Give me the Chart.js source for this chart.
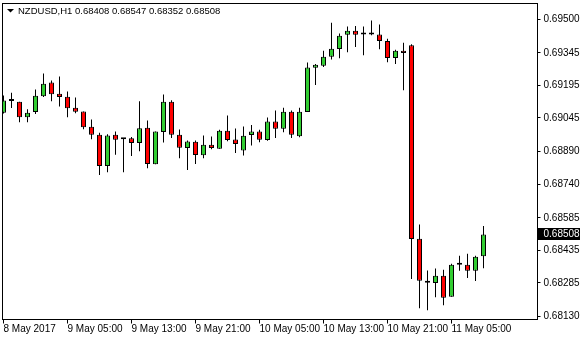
<!DOCTYPE html>
<html>
<head>
<meta charset="utf-8">
<script src="https://cdn.jsdelivr.net/npm/chart.js@4.4.0/dist/chart.umd.min.js"></script>
<style>
  html, body { margin: 0; padding: 0; background: #fff; }
  #wrap { width: 580px; height: 340px; }
</style>
</head>
<body>
<div id="wrap"><canvas id="candles" width="580" height="340"></canvas></div>
<script>
// --- Data (NZDUSD H1) ---
const symbolTitle = 'NZDUSD,H1';
const opens  = [0.69069, 0.69123, 0.69120, 0.69048, 0.69072, 0.69145, 0.69208, 0.69156, 0.69143, 0.69092,
                0.69075, 0.69004, 0.68968, 0.68824, 0.68967, 0.68947, 0.68951, 0.68930, 0.69000, 0.68832,
                0.68980, 0.69120, 0.68967, 0.68907, 0.68935, 0.68873, 0.68922, 0.68903, 0.68986, 0.68946,
                0.68895, 0.68966, 0.68982, 0.68943, 0.69028, 0.68995, 0.69074, 0.68961, 0.69072, 0.69276,
                0.69285, 0.69327, 0.69363, 0.69428, 0.69447, 0.69430, 0.69430, 0.69429, 0.69400, 0.69321,
                0.69355, 0.69380, 0.68488, 0.68295, 0.68284, 0.68318, 0.68221, 0.68368, 0.68368, 0.68341,
                0.68408];
const highs  = [0.69148, 0.69161, 0.69120, 0.69085, 0.69176, 0.69250, 0.69218, 0.69236, 0.69167, 0.69139,
                0.69075, 0.69038, 0.68977, 0.68970, 0.68983, 0.68952, 0.68957, 0.69122, 0.69033, 0.68982,
                0.69153, 0.69126, 0.68992, 0.68941, 0.68941, 0.68964, 0.68959, 0.68991, 0.69056, 0.68996,
                0.69006, 0.69012, 0.68991, 0.69047, 0.69079, 0.69092, 0.69079, 0.69092, 0.69300, 0.69294,
                0.69355, 0.69484, 0.69434, 0.69466, 0.69469, 0.69466, 0.69494, 0.69476, 0.69410, 0.69359,
                0.69392, 0.69385, 0.68554, 0.68342, 0.68351, 0.68346, 0.68373, 0.68410, 0.68419, 0.68410,
                0.68547];
const lows   = [0.69065, 0.69091, 0.69025, 0.69025, 0.69063, 0.69141, 0.69122, 0.69098, 0.69048, 0.69067,
                0.68993, 0.68947, 0.68782, 0.68795, 0.68875, 0.68795, 0.68870, 0.68892, 0.68813, 0.68832,
                0.68932, 0.68953, 0.68859, 0.68805, 0.68833, 0.68859, 0.68901, 0.68903, 0.68938, 0.68883,
                0.68872, 0.68918, 0.68933, 0.68940, 0.68952, 0.68979, 0.68952, 0.68956, 0.69072, 0.69197,
                0.69280, 0.69314, 0.69320, 0.69348, 0.69372, 0.69334, 0.69426, 0.69362, 0.69302, 0.69294,
                0.69173, 0.68303, 0.68168, 0.68159, 0.68219, 0.68182, 0.68221, 0.68341, 0.68307, 0.68294,
                0.68352];
const closes = [0.69125, 0.69123, 0.69048, 0.69069, 0.69147, 0.69202, 0.69154, 0.69141, 0.69090, 0.69073,
                0.69002, 0.68967, 0.68824, 0.68964, 0.68945, 0.68947, 0.68930, 0.68997, 0.68833, 0.68982,
                0.69120, 0.68967, 0.68908, 0.68936, 0.68874, 0.68921, 0.68906, 0.68986, 0.68943, 0.68925,
                0.68963, 0.68982, 0.68944, 0.69028, 0.68995, 0.69074, 0.68967, 0.69074, 0.69277, 0.69290,
                0.69327, 0.69364, 0.69424, 0.69447, 0.69428, 0.69430, 0.69430, 0.69400, 0.69321, 0.69355,
                0.69344, 0.68487, 0.68295, 0.68285, 0.68318, 0.68216, 0.68368, 0.68368, 0.68341, 0.68405,
                0.68508];

// bar index where each time label sits
const tickBars   = [0, 8, 16, 24, 32, 40, 48, 56];
const tickLabels = ['8 May 2017', '9 May 05:00', '9 May 13:00', '9 May 21:00',
                    '10 May 05:00', '10 May 13:00', '10 May 21:00', '11 May 05:00'];
const priceTicks = [0.69500, 0.69345, 0.69195, 0.69045, 0.68890, 0.68740, 0.68585, 0.68435, 0.68285, 0.68130];

const BULL = 'rgb(50,205,50)';
const BEAR = 'rgb(255,0,0)';
const FONT = 'Liberation Sans';

// --- Build datasets ---
const bodyColors = closes.map((c, i) => c > opens[i] ? BULL : (c < opens[i] ? BEAR : '#000'));
const bodies = opens.map((o, i) => ({ x: i, y: [Math.min(o, closes[i]), Math.max(o, closes[i])] }));
const wicks = lows.map((l, i) => ({ x: i, y: [l, highs[i]] }));

// frame, header line and last price tag, drawn like the terminal does
const terminalDecor = {
    id: 'terminalDecor',
    afterDraw(chart) {
        const { ctx, chartArea: a } = chart;
        ctx.save();
        ctx.strokeStyle = '#000';
        ctx.lineWidth = 1;
        ctx.strokeRect(a.left, a.top, a.right - a.left, a.bottom - a.top);

        // small dropdown triangle
        ctx.fillStyle = '#000';
        ctx.beginPath();
        ctx.moveTo(7, 9);
        ctx.lineTo(14, 9);
        ctx.lineTo(10.5, 12.5);
        ctx.closePath();
        ctx.fill();

        const last = closes.length - 1;
        const header = [symbolTitle, opens[last], highs[last], lows[last], closes[last]]
            .map(v => typeof v === 'number' ? v.toFixed(5) : v).join(' ');
        ctx.font = `9.5px "${FONT}"`;
        ctx.textBaseline = 'middle';
        ctx.textAlign = 'left';
        ctx.fillText(header, 18, 11);

        // last close tag on the price axis
        const yScale = chart.scales.y;
        const py = Math.round(yScale.getPixelForValue(closes[last]));
        ctx.fillStyle = '#000';
        ctx.fillRect(538, py - 6, 42, 12);
        ctx.fillStyle = '#fff';
        ctx.font = `10px "${FONT}"`;
        ctx.fillText(closes[last].toFixed(5), 543.5, py + 0.5);
        ctx.restore();
    }
};

new Chart(document.getElementById('candles'), {
    type: 'bar',
    data: {
        datasets: [
            {
                label: 'body',
                data: bodies,
                backgroundColor: bodyColors,
                borderColor: '#000',
                borderWidth: 1,
                borderSkipped: false,
                maxBarThickness: 5,
                minBarLength: 2,
                grouped: false,
                order: 0
            },
            {
                label: 'wick',
                data: wicks,
                backgroundColor: '#000',
                borderWidth: 0,
                maxBarThickness: 1,
                grouped: false,
                order: 1
            }
        ]
    },
    options: {
        responsive: false,
        animation: false,
        devicePixelRatio: 1,
        layout: { padding: { left: 2.5, top: 3.5, right: 0, bottom: 0 } },
        plugins: {
            legend: { display: false },
            tooltip: { enabled: false }
        },
        scales: {
            x: {
                type: 'linear',
                offset: false,
                min: -0.125,
                max: 66.75,
                border: { display: false },
                grid: { display: true, offset: false, drawOnChartArea: false, drawTicks: true, tickLength: 4, color: '#000' },
                ticks: {
                    autoSkip: false,
                    maxRotation: 0,
                    align: 'start',
                    padding: 0,
                    color: '#000',
                    font: { family: FONT, size: 10 },
                    callback: (v) => tickLabels[tickBars.indexOf(v)] ?? ''
                },
                afterBuildTicks: (scale) => { scale.ticks = tickBars.map(v => ({ value: v })); },
                afterFit: (scale) => { scale.height = 20.5; scale.paddingLeft = 0; scale.paddingRight = 0; }
            },
            y: {
                type: 'linear',
                position: 'right',
                min: 0.681162,
                max: 0.695723,
                border: { display: false },
                grid: { display: true, drawOnChartArea: false, drawTicks: true, tickLength: 3, color: '#000' },
                ticks: {
                    padding: 3,
                    color: '#000',
                    font: { family: FONT, size: 10 },
                    callback: (v) => v.toFixed(5)
                },
                afterBuildTicks: (scale) => { scale.ticks = priceTicks.map(v => ({ value: v })); },
                afterFit: (scale) => { scale.width = 42.5; scale.paddingTop = 0; scale.paddingBottom = 0; }
            }
        }
    },
    plugins: [terminalDecor]
});
</script>
</body>
</html>
